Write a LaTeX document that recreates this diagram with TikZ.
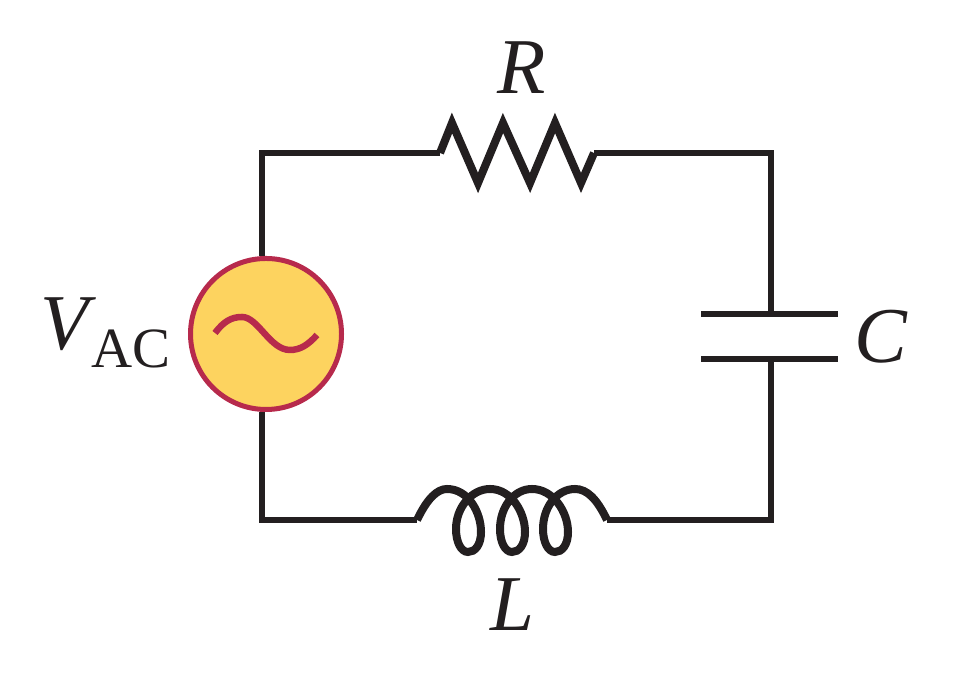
\documentclass[tikz,border=0pt]{standalone}
\usepackage{fontspec}
\setmainfont{Liberation Serif}
\usetikzlibrary{positioning}
\definecolor{srcfill}{HTML}{FDD35F}
\definecolor{srcline}{HTML}{B72A4C}
\definecolor{wirecol}{HTML}{231F20}
\tikzset{wire/.style = {draw = wirecol, line width = 0.065cm, miter limit = 10}}
\tikzset{coil/.style = {wire, line width = 0.08cm}}
\tikzset{lbl/.style = {text = wirecol, inner sep = 0, font = \fontsize{22.5}{24}\selectfont\itshape}}
\tikzset{source/.style = {circle, draw = srcline, fill = srcfill, line width = 0.05cm,
                          inner sep = 0, minimum size = 1.51cm}}

\begin{document}
\begin{tikzpicture}
    \useasboundingbox (0, 0) rectangle (9.71, 6.97);

    \node [source] (vac) at (2.66, 3.63) {};
    \coordinate (resin) at (4.40, 5.44);
    \coordinate (resout) at (5.94, 5.44);
    \coordinate (platea) at (7.71, 3.83);
    \coordinate (plateb) at (7.71, 3.38);
    \coordinate (indin) at (4.17, 1.77);
    \coordinate (indout) at (6.07, 1.77);

    % wires
    \draw [wire] (vac.93) |- (resin);
    \draw [wire] (resout) -| (platea);
    \draw [wire] (vac.267) |- (indin);
    \draw [wire] (indout) -| (plateb);

    % resistor
    \draw [coil] (resin) -- ++(0.12, 0.30) -- ++(0.26, -0.60) -- ++(0.25, 0.60)
      -- ++(0.27, -0.60) -- ++(0.25, 0.60) -- ++(0.26, -0.60) -- (resout);

    % capacitor
    \draw [wire] (7.01, 3.83) -- (8.38, 3.83);
    \draw [wire] (7.01, 3.38) -- (8.38, 3.38);

    % inductor
    \draw [coil] (indin) .. controls (4.27, 1.98) and (4.37, 2.08) .. (4.47, 2.08)
      .. controls (4.68, 2.08) and (4.81, 1.85) .. (4.81, 1.65)
      .. controls (4.81, 1.52) and (4.75, 1.45) .. (4.68, 1.45)
      .. controls (4.61, 1.45) and (4.56, 1.55) .. (4.56, 1.68)
      .. controls (4.56, 1.90) and (4.72, 2.08) .. (4.90, 2.08)
      .. controls (5.11, 2.08) and (5.25, 1.85) .. (5.25, 1.65)
      .. controls (5.25, 1.52) and (5.19, 1.45) .. (5.12, 1.45)
      .. controls (5.05, 1.45) and (5.00, 1.55) .. (5.00, 1.68)
      .. controls (5.00, 1.90) and (5.14, 2.08) .. (5.32, 2.08)
      .. controls (5.53, 2.08) and (5.68, 1.85) .. (5.68, 1.65)
      .. controls (5.68, 1.52) and (5.62, 1.45) .. (5.55, 1.45)
      .. controls (5.48, 1.45) and (5.43, 1.55) .. (5.43, 1.68)
      .. controls (5.43, 1.90) and (5.57, 2.08) .. (5.75, 2.08)
      .. controls (5.87, 2.08) and (5.97, 1.98) .. (indout);

    % source wave
    \draw [draw = srcline, line width = 0.065cm] (2.15, 3.64) .. controls (2.24, 3.76) and (2.32, 3.80) .. (2.42, 3.80)
      .. controls (2.58, 3.80) and (2.70, 3.47) .. (2.90, 3.47)
      .. controls (3.00, 3.47) and (3.08, 3.52) .. (3.17, 3.62);

    \node [lbl] (rlabel) at (5.22, 6.29) {R};
    \node [lbl] (clabel) at (8.81, 3.60) {C};
    \node [lbl] (llabel) at (5.12, 0.92) {L};
    \node [lbl, anchor = base west] (vlabel) at (0.40, 3.47) {V};
    \node [lbl, anchor = base west, font = \fontsize{16.2}{18}\selectfont] (aclabel) at (0.91, 3.29) {AC};
\end{tikzpicture}
\end{document}
